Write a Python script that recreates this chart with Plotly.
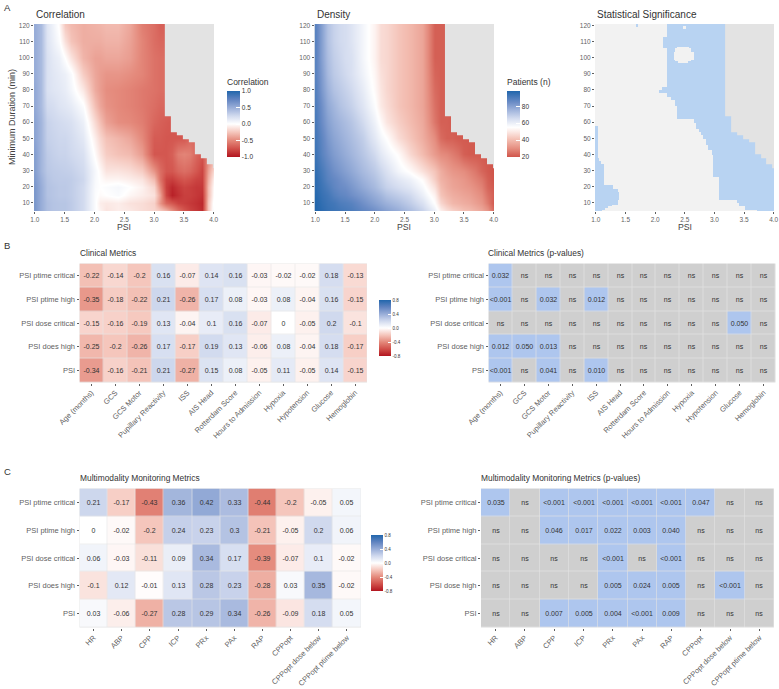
import plotly.graph_objects as go

W = 779
H = 689

# values
psi = [1.0, 1.1, 1.2, 1.3, 1.4, 1.5, 1.6, 1.8, 2.0, 2.1, 2.2, 2.4, 2.6, 2.8, 3.0, 3.1, 3.2,
       3.3, 3.4, 3.5, 3.6, 3.7, 3.8, 3.9, 4.0]
duration = [5, 10, 15, 20, 25, 30, 40, 50, 60, 70, 80, 90, 100, 110, 120]
N = None

corr = [
    [.62, .5, .4, .37, .36, .36, .33, .24, .02, -.05, -.12, -.08, -.1, -.15, -.18, -.22, -.3, -.45, -.6, -.72, -.8, -.85, -.9, -.25, .08],
    [.62, .5, .4, .37, .36, .36, .33, .24, .02, -.08, -.1, -.08, -.13, -.15, -.2, -.45, -.65, -.72, -.8, -.82, -.85, -.88, -.92, -.25, .05],
    [.62, .5, .38, .36, .34, .34, .32, .24, .02, -.02, 0, .03, -.04, -.08, -.13, -.4, -.8, -.95, -.88, -.82, -.82, -.85, -.88, -.3, .02],
    [.62, .5, .38, .36, .34, .34, .32, .24, .03, 0, .02, .05, 0, -.06, -.18, -.5, -.82, -.92, -.85, -.8, -.82, -.85, -.85, -.3, 0],
    [.6, .48, .37, .34, .33, .33, .32, .26, .04, -.01, -.05, -.05, -.08, -.12, -.3, -.6, -.8, -.82, -.76, -.72, -.75, -.8, -.82, -.35, -.05],
    [.58, .45, .35, .33, .32, .31, .3, .24, .05, -.03, -.12, -.12, -.15, -.22, -.45, -.62, -.72, -.72, -.65, -.62, -.65, -.72, -.8, -.4, -.15],
    [.58, .45, .33, .3, .28, .28, .25, .2, -.02, -.12, -.22, -.27, -.3, -.42, -.72, -.72, -.72, -.68, -.55, -.52, -.55, -.65, -.72, N, N],
    [.55, .45, .3, .28, .26, .26, .23, .15, -.08, -.18, -.27, -.32, -.38, -.5, -.7, -.7, -.72, -.72, -.72, -.72, N, N, N, N, N],
    [.55, .45, .29, .26, .24, .22, .2, .1, -.17, -.28, -.4, -.48, -.5, -.55, -.65, -.68, -.7, -.72, N, N, N, N, N, N, N],
    [.52, .42, .24, .22, .18, .16, .13, .02, -.28, -.38, -.46, -.5, -.53, -.57, -.62, -.65, -.65, N, N, N, N, N, N, N, N],
    [.52, .42, .2, .17, .15, .12, .06, -.1, -.36, -.42, -.48, -.5, -.53, -.57, -.6, -.62, -.62, N, N, N, N, N, N, N, N],
    [.5, .42, .2, .16, .13, .1, .03, -.22, -.38, -.42, -.45, -.45, -.48, -.52, -.6, -.62, -.62, N, N, N, N, N, N, N, N],
    [.5, .42, .2, .14, .1, 0, -.12, -.32, -.4, -.4, -.38, -.38, -.42, -.52, -.6, -.62, -.62, N, N, N, N, N, N, N, N],
    [.5, .42, .18, .1, .02, -.14, -.26, -.35, -.35, -.35, -.33, -.33, -.4, -.52, -.62, -.65, -.65, N, N, N, N, N, N, N, N],
    [.5, .42, .17, .08, -.02, -.24, -.3, -.35, -.33, -.32, -.3, -.3, -.38, -.55, -.62, -.68, -.68, N, N, N, N, N, N, N, N],
]

density = [
    [98, 96, 94, 93, 92, 91, 90, 87, 84, 82, 80, 77, 73, 68, 60, 52, 48, 45, 43, 41, 40, 38, 36, 32, 24],
    [98, 95, 93, 92, 90, 89, 88, 84, 80, 78, 76, 73, 69, 64, 55, 46, 42, 39, 38, 37, 36, 34, 32, 27, 21],
    [97, 94, 92, 89, 87, 86, 84, 81, 77, 75, 72, 69, 66, 60, 52, 42, 39, 37, 36, 35, 34, 32, 30, 25, 22],
    [96, 93, 90, 87, 85, 84, 82, 78, 74, 71, 68, 65, 62, 57, 48, 40, 37, 35, 34, 33, 32, 30, 28, 23, 21],
    [96, 92, 88, 86, 84, 82, 80, 76, 72, 69, 66, 62, 59, 54, 44, 38, 36, 34, 33, 32, 30, 28, 26, 22, 20],
    [95, 91, 87, 84, 82, 80, 78, 74, 70, 67, 64, 58, 54, 48, 42, 37, 34, 32, 31, 30, 28, 26, 23, 21, 20],
    [93, 88, 84, 81, 79, 77, 75, 71, 66, 62, 59, 54, 46, 40, 33, 30, 29, 27, 25, 22, 21, 21, 21, N, N],
    [92, 87, 82, 79, 77, 75, 73, 69, 62, 58, 55, 47, 42, 37, 30, 24, 22, 22, 21, 21, N, N, N, N, N],
    [91, 85, 80, 77, 75, 73, 71, 66, 59, 54, 49, 44, 40, 36, 26, 22, 22, 21, N, N, N, N, N, N, N],
    [90, 84, 78, 75, 72, 70, 68, 63, 56, 50, 47, 42, 39, 35, 25, 22, 22, N, N, N, N, N, N, N, N],
    [89, 82, 76, 72, 70, 68, 66, 61, 54, 49, 46, 42, 39, 35, 24, 22, 22, N, N, N, N, N, N, N, N],
    [88, 81, 74, 70, 68, 66, 64, 59, 53, 48, 46, 42, 39, 35, 23, 22, 22, N, N, N, N, N, N, N, N],
    [88, 80, 73, 69, 67, 65, 64, 58, 52, 47, 46, 42, 39, 35, 22, 22, 22, N, N, N, N, N, N, N, N],
    [88, 80, 72, 68, 66, 65, 63, 58, 52, 47, 46, 42, 39, 35, 22, 22, 22, N, N, N, N, N, N, N, N],
    [88, 80, 72, 68, 66, 65, 63, 58, 52, 47, 46, 42, 39, 35, 22, 22, 22, N, N, N, N, N, N, N, N],
]

# no data above these durations, one entry per PSI bin
nodata_psi_edges = [3.18, 3.28, 3.38, 3.48, 3.58, 3.68, 3.78, 3.88, 3.98, 4.05]
nodata_dur_edges = [31.7, 33.7, 37.9, 39.9, 47.6, 49.6, 51.7, 53.8, 63.7, 125]
nodata_from = [63.7, 53.8, 51.7, 49.6, 47.6, 39.9, 37.9, 33.7, 31.7]

# significant bands: duration low, duration high, PSI start, PSI end
sig_bands = [
    (113, 121, 2.18, 4.05), (106, 113, 2.13, 4.05), (82, 106, 2.18, 4.05), (80, 82, 2.12, 4.05),
    (78, 80, 2.08, 4.05), (76, 78, 2.2, 4.05), (74, 76, 2.27, 4.05), (70, 74, 2.34, 4.05),
    (62, 70, 2.38, 4.05), (60, 62, 2.66, 4.05), (58, 60, 2.68, 4.05), (56, 58, 2.7, 4.05),
    (54, 56, 2.74, 4.05), (52, 54, 2.78, 4.05), (50, 52, 2.82, 4.05), (46, 50, 2.86, 4.05),
    (43, 46, 2.9, 4.05), (40, 43, 2.96, 4.05), (26, 40, 2.98, 4.05), (12, 26, 3.07, 4.05),
    (10, 12, 3.38, 4.05), (8, 10, 3.42, 4.05), (6, 8, 3.52, 4.05),
    (5, 6, 3.72, 4.05),
    (38, 58, 0.9, 1.03), (36, 38, 0.9, 1.06), (34, 36, 0.9, 1.09), (28, 34, 0.9, 1.13),
    (21, 28, 0.9, 1.14), (19, 21, 0.9, 1.3), (17, 19, 0.9, 1.36), (12, 17, 0.9, 1.39),
    (9, 12, 0.9, 1.36), (8, 9, 0.9, 1.27), (7, 8, 0.9, 1.21), (6, 7, 0.9, 1.16), (5, 6, 0.9, 1.12),
    (119, 121, 1.68, 1.72),
]
nonsig_bands = [
    (106, 107, 2.38, 2.58), (104, 106, 2.33, 2.62), (99, 104, 2.31, 2.65), (98, 99, 2.34, 2.62),
    (97, 98, 2.4, 2.56), (118, 120, 2.48, 2.52),
]

rows = ['PSI ptime critical', 'PSI ptime high', 'PSI dose critical', 'PSI does high', 'PSI']
rows_p = ['PSI ptime critical', 'PSI ptime high', 'PSI dose critical', 'PSI dose high', 'PSI']

clinical = ['Age (months)', 'GCS', 'GCS Motor', 'Pupillary Reactivity', 'ISS', 'AIS Head', 'Rotterdam Score',
            'Hours to Admission', 'Hypoxia', 'Hypotension', 'Glucose', 'Hemoglobin']
clinical_r = [
    [-.22, -.14, -.2, .16, -.07, .14, .16, -.03, -.02, -.02, .18, -.13],
    [-.35, -.18, -.22, .21, -.26, .17, .08, -.03, .08, -.04, .16, -.15],
    [-.15, -.16, -.19, .13, -.04, .1, .16, -.07, 0, -.05, .2, -.1],
    [-.25, -.2, -.26, .17, -.17, .19, .13, -.06, .08, -.04, .18, -.17],
    [-.34, -.16, -.21, .21, -.27, .15, .08, -.05, .11, -.05, .14, -.15],
]
clinical_p = [
    ['0.032', 'ns', 'ns', 'ns', 'ns', 'ns', 'ns', 'ns', 'ns', 'ns', 'ns', 'ns'],
    ['<0.001', 'ns', '0.032', 'ns', '0.012', 'ns', 'ns', 'ns', 'ns', 'ns', 'ns', 'ns'],
    ['ns', 'ns', 'ns', 'ns', 'ns', 'ns', 'ns', 'ns', 'ns', 'ns', '0.050', 'ns'],
    ['0.012', '0.050', '0.013', 'ns', 'ns', 'ns', 'ns', 'ns', 'ns', 'ns', 'ns', 'ns'],
    ['<0.001', 'ns', '0.041', 'ns', '0.010', 'ns', 'ns', 'ns', 'ns', 'ns', 'ns', 'ns'],
]

monitoring = ['HR', 'ABP', 'CPP', 'ICP', 'PRx', 'PAx', 'RAP', 'CPPopt', 'CPPopt dose below', 'CPPopt ptime below']
monitoring_r = [
    [.21, -.17, -.43, .36, .42, .33, -.44, -.2, -.05, .05],
    [0, -.02, -.2, .24, .23, .3, -.21, -.05, .2, .06],
    [.06, -.03, -.11, .09, .34, .17, -.39, -.07, .1, -.02],
    [-.1, .12, -.01, .13, .28, .23, -.28, .03, .35, -.02],
    [.03, -.06, -.27, .28, .29, .34, -.26, -.09, .18, .05],
]
monitoring_p = [
    ['0.035', 'ns', '<0.001', '<0.001', '<0.001', '<0.001', '<0.001', '0.047', 'ns', 'ns'],
    ['ns', 'ns', '0.046', '0.017', '0.022', '0.003', '0.040', 'ns', 'ns', 'ns'],
    ['ns', 'ns', 'ns', 'ns', '<0.001', 'ns', '<0.001', 'ns', 'ns', 'ns'],
    ['ns', 'ns', 'ns', 'ns', '0.005', '0.024', '0.005', 'ns', '<0.001', 'ns'],
    ['ns', 'ns', '0.007', '0.005', '0.004', '<0.001', '0.009', 'ns', 'ns', 'ns'],
]

FONT = 'Liberation Sans'
GREY = '#E3E3E3'
TICK = '#5F5F5F'

rdbu = [[0, '#B2151F'], [.125, '#D1504A'], [.25, '#E4897B'], [.375, '#F5C6BC'], [.5, '#FFFFFF'],
        [.625, '#D0D9EE'], [.75, '#98ADD8'], [.875, '#6083C0'], [1, '#2166AC']]
rdbu_density = [[0, '#D0554B'], [.13, '#E58E80'], [.26, '#F3BDB1'], [.385, '#FCEAE6'], [.45, '#FFFFFF'],
                [.58, '#D5DDF0'], [.71, '#A0B4DC'], [.83, '#6B8CC6'], [1, '#2166AC']]

fig = go.Figure()
layout = {}
notes = []


def add_axes(n, x0, x1, y0, y1, **kw):
    suffix = '' if n == 1 else str(n)
    base = dict(showgrid=False, zeroline=False, showline=False, ticks='outside', ticklen=2, tickwidth=.7,
                tickcolor=TICK, tickfont=dict(size=kw.pop('size', 7.5), color=TICK, family=FONT))
    layout['xaxis' + suffix] = dict(base, domain=[x0 / W, x1 / W], anchor='y' + suffix, **kw.pop('xkw', {}))
    layout['yaxis' + suffix] = dict(base, domain=[1 - y1 / H, 1 - y0 / H], anchor='x' + suffix, **kw.pop('ykw', {}))
    return 'x' + suffix, 'y' + suffix


def text(x, y, s, size, color='#333333', angle=0, anchor='left'):
    notes.append(dict(x=x / W, y=1 - y / H, xref='paper', yref='paper', text=s, showarrow=False, xanchor=anchor,
                      yanchor='middle', textangle=angle, font=dict(size=size, color=color, family=FONT)))


def bar(x, y, h, title, ticks, labels=None, size=6.5, w=13):
    d = dict(x=x / W, xanchor='left', y=1 - y / H, yanchor='top', lenmode='pixels', len=h, thicknessmode='pixels',
             thickness=w, xpad=0, ypad=0, outlinewidth=0, ticks='inside', ticklen=w / 4, tickcolor='white', tickwidth=.5,
             tickvals=ticks, ticktext=labels, tickfont=dict(size=size, color='#333333', family=FONT))
    if title:
        d['title'] = dict(text=title, side='top', font=dict(size=8.5, color='#333333', family=FONT))
    return d


def mask(xa, ya):
    z = []
    for low in nodata_dur_edges[:-1]:
        z.append([1 if low >= top - .01 else None for top in nodata_from])
    fig.add_trace(go.Heatmap(x=nodata_psi_edges, y=nodata_dur_edges, z=z, xaxis=xa, yaxis=ya, showscale=False,
                             colorscale=[[0, GREY], [1, GREY]], hoverinfo='skip'))


a_axis = dict(xkw=dict(range=[.985, 4.005], tickvals=[1, 1.5, 2, 2.5, 3, 3.5, 4], tickformat='.1f'),
              ykw=dict(range=[5, 120.8], tickvals=list(range(10, 121, 10))), size=6.5)

# A: correlation
xa, ya = add_axes(1, 34, 214, 24, 211, **dict(a_axis))
fig.add_trace(go.Heatmap(x=psi, y=duration, z=corr, xaxis=xa, yaxis=ya, zmin=-1, zmax=1, colorscale=rdbu,
                         zsmooth='best', connectgaps=True,
                         colorbar=bar(227, 76, 81, 'Correlation', [-1, -.5, 0, .5, 1], ['-1.0', '-0.5', '0.0', '0.5', '1.0'])))
mask(xa, ya)

# A: density
xa, ya = add_axes(2, 314.5, 494, 24, 211, **dict(a_axis))
fig.add_trace(go.Heatmap(x=psi, y=duration, z=density, xaxis=xa, yaxis=ya, zmin=20, zmax=98, colorscale=rdbu_density,
                         zsmooth='best', connectgaps=True,
                         colorbar=bar(507, 76, 81, 'Patients (n)', [20, 40, 60, 80])))
mask(xa, ya)

# A: significance
xa, ya = add_axes(3, 595, 774, 24, 211, **dict(a_axis))
sig_x = [.98 + i * .02 for i in range(155)]
sig_y = [5 + i * .5 for i in range(233)]
sig_z = [[0] * len(sig_x) for _ in sig_y]
for value, bands in ((1, sig_bands), (0, nonsig_bands)):
    for lo, hi, x0, x1 in bands:
        for i, d in enumerate(sig_y):
            for j, p in enumerate(sig_x):
                if lo <= d < hi and x0 <= p < x1:
                    sig_z[i][j] = value
fig.add_trace(go.Heatmap(x=sig_x, y=sig_y, z=sig_z, xaxis=xa, yaxis=ya, zmin=0, zmax=1, showscale=False,
                         colorscale=[[0, '#F2F2F2'], [1, '#B8D3F2']], hoverinfo='skip'))
mask(xa, ya)


def corr_panel(n, x0, x1, y0, y1, cols, values, cbar):
    xa, ya = add_axes(n, x0, x1, y0, y1, xkw=dict(tickangle=-45), ykw=dict(autorange='reversed'))
    fig.add_trace(go.Heatmap(x=cols, y=rows, z=values, text=[[str(v) for v in r] for r in values],
                             texttemplate='%{text}', textfont=dict(size=7, color='#333333', family=FONT),
                             xaxis=xa, yaxis=ya, zmin=-.8, zmax=.8, colorscale=rdbu, xgap=.6, ygap=.6, colorbar=cbar))


def p_panel(n, x0, x1, y0, y1, cols, values):
    xa, ya = add_axes(n, x0, x1, y0, y1, xkw=dict(tickangle=-45), ykw=dict(autorange='reversed'))
    z = [[0 if v == 'ns' else 1 for v in r] for r in values]
    fig.add_trace(go.Heatmap(x=cols, y=rows_p, z=z, text=values, texttemplate='%{text}',
                             textfont=dict(size=7, color='#333333', family=FONT), xaxis=xa, yaxis=ya, zmin=0, zmax=1,
                             showscale=False, colorscale=[[0, '#CFCFCF'], [1, '#AEC6EE']], xgap=.6, ygap=.6))


r_ticks = [-.8, -.4, 0, .4, .8]
r_labels = ['-0.8', '-0.4', '0.0', '0.4', '0.8']
corr_panel(4, 79.5, 367, 263.5, 382.5, clinical, clinical_r, bar(379.3, 300, 56, None, r_ticks, r_labels, 4.5, 11.5))
p_panel(5, 488.5, 775.5, 263.5, 382.5, clinical, clinical_p)
corr_panel(6, 79.5, 361, 488.5, 627.5, monitoring, monitoring_r, bar(371, 535, 56, None, r_ticks, r_labels, 4.5, 11.5))
p_panel(7, 481, 774, 488.5, 627.5, monitoring, monitoring_p)

text(2, 8, 'A', 9.5)
text(2, 246, 'B', 9.5)
text(2, 471, 'C', 9.5)
text(34, 14.5, 'Correlation', 10)
text(314.5, 14.5, 'Density', 10)
text(595, 14.5, 'Statistical Significance', 10)
text(124, 226.5, 'PSI', 8.7, '#444444', anchor='center')
text(404, 226.5, 'PSI', 8.7, '#444444', anchor='center')
text(684.5, 226.5, 'PSI', 8.7, '#444444', anchor='center')
text(12, 117, 'Minimum Duration (min)', 9, '#444444', angle=-90, anchor='center')
text(77.5, 252.5, 'Clinical Metrics', 8.4)
text(486, 252.5, 'Clinical Metrics (p-values)', 8.4)
text(77.5, 477.5, 'Multimodality Monitoring Metrics', 8.4)
text(478.5, 477.5, 'Multimodality Monitoring Metrics (p-values)', 8.4)

fig.update_layout(width=W, height=H, margin=dict(l=0, r=0, t=0, b=0, autoexpand=False), paper_bgcolor='white',
                  plot_bgcolor=GREY, font=dict(family=FONT), annotations=notes, **layout)

# the page's default body margin would push the figure 8px in
fig.write_html("out.html", config={'displayModeBar': False}, post_script="document.body.style.margin='0';")
